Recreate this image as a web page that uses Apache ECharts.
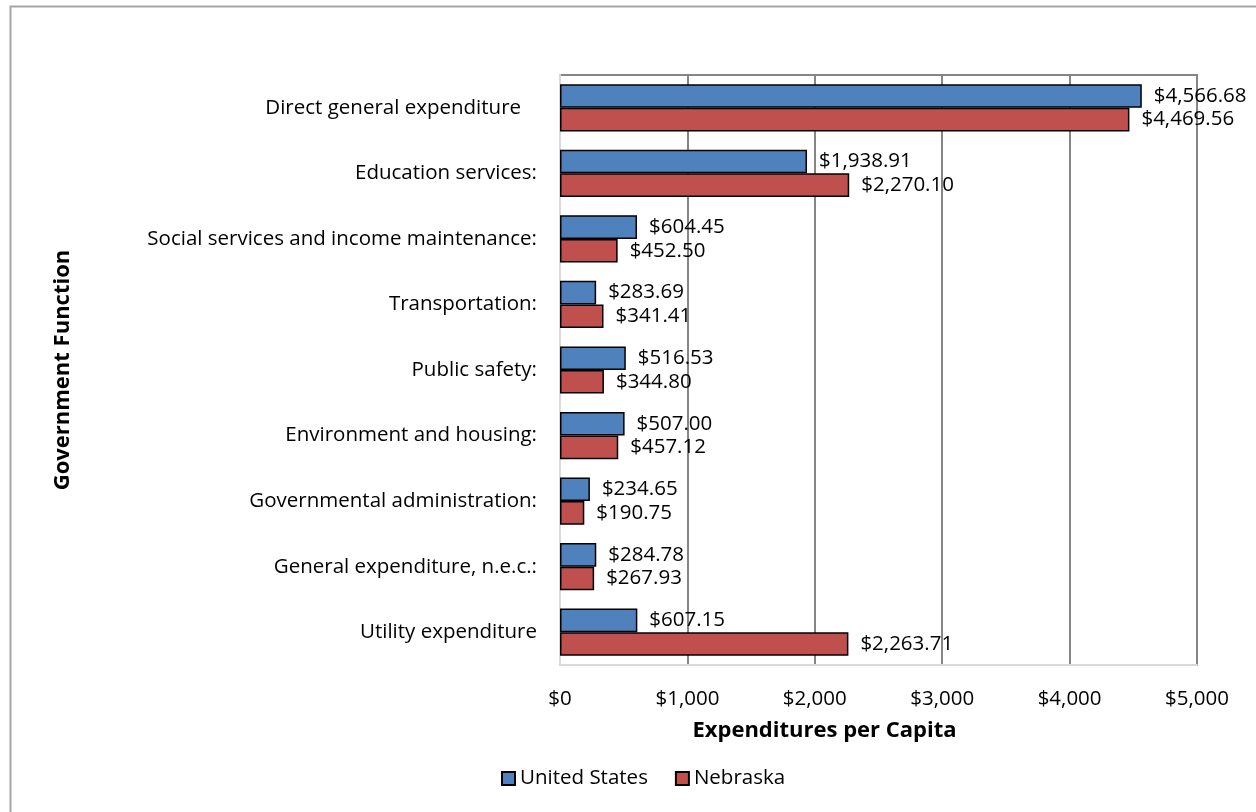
<!DOCTYPE html>
<html><head><meta charset="utf-8">
<script src="https://cdn.jsdelivr.net/npm/echarts@6/dist/echarts.min.js"></script>
<style>html,body{margin:0;padding:0;background:#fff}#c{width:1256px;height:812px}</style>
</head><body><div id="c"></div>
<script>
var categories = ["Direct general expenditure   ", "Education services:", "Social services and income maintenance:", "Transportation:", "Public safety:", "Environment and housing:", "Governmental administration:", "General expenditure, n.e.c.:", "Utility expenditure"];
var seriesNames = ["United States", "Nebraska"];
var usValues = [4566.68, 1938.91, 604.45, 283.69, 516.53, 507.00, 234.65, 284.78, 607.15];
var neValues = [4469.56, 2270.10, 452.50, 341.41, 344.80, 457.12, 190.75, 267.93, 2263.71];
var xTicks = {min: 0, max: 5000, interval: 1000};

var FONT = 'Open Sans';
var FS = 20.5;
function money(v, dec) {
  return '$' + Number(v).toLocaleString('en-US', {minimumFractionDigits: dec, maximumFractionDigits: dec});
}
var chart = echarts.init(document.getElementById('c'));
var labelCfg = {show: true, position: 'right', distance: 12, color: '#000', fontFamily: FONT, fontSize: FS,
  formatter: function (p) { return money(p.value, 2); }};
chart.setOption({
  animation: false,
  textStyle: {fontFamily: FONT},
  graphic: [{type: 'rect', shape: {x: 10.5, y: 6.5, width: 1260, height: 820}, style: {fill: 'none', stroke: '#a6a6a6', lineWidth: 2}, z: 0}],
  grid: {left: 560, right: 59, top: 75, bottom: 147, show: true, borderColor: '#868686', borderWidth: 2},
  legend: {bottom: 18, left: 496, itemWidth: 13, itemHeight: 13, itemGap: 27, icon: 'rect',
    textStyle: {fontFamily: FONT, fontSize: FS, color: '#000'}, data: seriesNames},
  xAxis: {type: 'value', min: xTicks.min, max: xTicks.max, interval: xTicks.interval,
    name: 'Expenditures per Capita', nameLocation: 'middle', nameGap: 55,
    nameTextStyle: {fontFamily: FONT, fontSize: 22, fontWeight: 'bold', color: '#000', padding: [0, 108, 0, 0]},
    axisLine: {show: true, lineStyle: {color: '#d9d9d9', width: 2}},
    axisTick: {show: false},
    splitLine: {show: true, lineStyle: {color: '#868686', width: 2}},
    axisLabel: {margin: 24, color: '#000', fontFamily: FONT, fontSize: FS, formatter: function (v) { return money(v, 0); }}},
  yAxis: {type: 'category', inverse: true, data: categories,
    name: 'Government Function', nameLocation: 'middle', nameGap: 486, nameRotate: 90,
    nameTextStyle: {fontFamily: FONT, fontSize: 22, fontWeight: 'bold', color: '#000'},
    axisLine: {show: true, lineStyle: {color: '#d9d9d9', width: 2}},
    axisTick: {show: false},
    axisLabel: {margin: 23, color: '#000', fontFamily: FONT, fontSize: FS}},
  series: [
    {name: seriesNames[0], type: 'bar', data: usValues, barGap: '0%', barCategoryGap: '28%',
      itemStyle: {color: '#4f81bd', borderColor: '#000', borderWidth: 1.5}, label: labelCfg},
    {name: seriesNames[1], type: 'bar', data: neValues,
      itemStyle: {color: '#c0504d', borderColor: '#000', borderWidth: 1.5}, label: labelCfg}
  ]
});
</script></body></html>
